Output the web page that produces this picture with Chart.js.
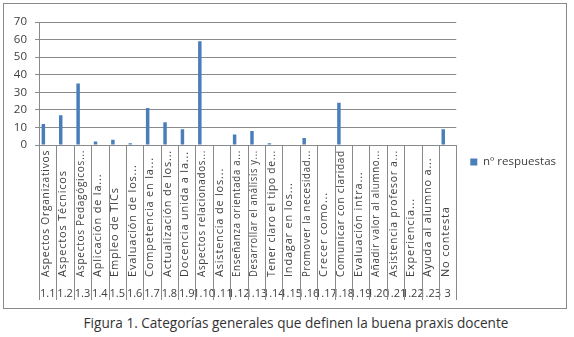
<!DOCTYPE html>
<html lang="es">
<head>
  <meta charset="UTF-8">
  <title>Figura 1</title>
  <script src="https://cdn.jsdelivr.net/npm/chart.js"></script>
  <style>
    * { margin: 0; padding: 0; box-sizing: border-box; }
    body { width: 574px; height: 337px; background: #fff; position: relative; overflow: hidden; }
    #box {
      position: absolute; left: 3px; top: 3px; width: 564px; height: 306px;
      border: 1px solid #8a8a8a;
    }
    #box canvas { display: block; }
    #caption {
      position: absolute; left: 0; width: 592px; top: 313px;
      text-align: center; font-family: 'Open Sans', sans-serif; font-size: 13.6px; color: #333;
    }
  </style>
</head>
<body>
  <div id="box"><canvas id="chart" width="562" height="304"></canvas></div>
  <div id="caption">Figura 1. Categorías generales que definen la buena praxis docente</div>

  <script>
    const categories = [
      "Aspectos Organizativos", "Aspectos Técnicos", "Aspectos Pedagógicos...", "Aplicación de la...",
      "Empleo de TICs", "Evaluación de los...", "Competencia en la...", "Actualización de los...",
      "Docencia unida a la...", "Aspectos relacionados...", "Asistencia de los...", "Enseñanza orientada a...",
      "Desarrollar el análisis y...", "Tener claro el tipo de...", "Indagar en los...", "Promover la necesidad...",
      "Crecer como...", "Comunicar con claridad", "Evaluación intra...", "Añadir valor al alumno...",
      "Asistencia profesor a...", "Experiencia...", "Ayuda al alumno a...", "No contesta"
    ];
    const codes = [
      "1.1", "1.2", "1.3", "1.4", "1.5", "1.6", "1.7", "1.8", "1.9", "1.10", "1.11", "1.12",
      "1.13", "1.14", "1.15", "1.16", "1.17", "1.18", "1.19", "1.20", "1.21", "1.22", "1.23", "3"
    ];
    const respuestas = [12, 17, 35, 2, 3, 1, 21, 13, 9, 59, 0, 6, 8, 1, 0, 4, 0, 24, 0, 0, 0, 0, 0, 9];
    const yTicks = [0, 10, 20, 30, 40, 50, 60, 70];

    const lineColor = '#8a8a8a';
    const textColor = '#404040';

    // table-like label area: separators + category names written bottom-up
    const labelArea = {
      id: 'labelArea',
      afterDraw(chart) {
        const x = chart.scales.x;
        const x2 = chart.scales.x2;
        const ctx = chart.ctx;
        const w = x.width / categories.length;
        ctx.save();
        ctx.strokeStyle = lineColor;
        ctx.lineWidth = 1;
        ctx.beginPath();
        for (let i = 0; i <= categories.length; i++) {
          const px = Math.round(x.left + i * w) + 0.5;
          ctx.moveTo(px, x.top);
          ctx.lineTo(px, x2.bottom - 2);
        }
        ctx.stroke();

        ctx.fillStyle = textColor;
        ctx.font = '11px "Open Sans"';
        if ('letterSpacing' in ctx) ctx.letterSpacing = '0.8px';
        ctx.textAlign = 'left';
        ctx.textBaseline = 'middle';
        const room = x.height - 8;
        categories.forEach((label, i) => {
          const px = x.getPixelForTick(i) - 2;
          ctx.save();
          ctx.translate(px, x.bottom - 3);
          ctx.rotate(-Math.PI / 2);
          ctx.fillText(label, 0, 0, room);
          ctx.restore();
        });
        ctx.restore();
      }
    };

    new Chart(document.getElementById('chart'), {
      type: 'bar',
      data: {
        labels: categories,
        datasets: [
          {
            label: 'nº respuestas',
            data: respuestas,
            backgroundColor: '#4a7ebb',
            borderWidth: 0,
            categoryPercentage: 1.0,
            barPercentage: 0.4
          },
          {
            label: '',
            data: respuestas.map(() => null),
            backgroundColor: '#c6d6ea',
            categoryPercentage: 1.0,
            barPercentage: 0.4
          }
        ]
      },
      options: {
        responsive: false,
        animation: false,
        events: [],
        layout: { padding: { top: 18, right: 0, bottom: 6, left: 0 } },
        plugins: {
          title: { display: false },
          tooltip: { enabled: false },
          legend: {
            position: 'right',
            labels: {
              filter: item => item.datasetIndex === 0,
              boxWidth: 7,
              boxHeight: 7,
              padding: 14,
              color: textColor,
              font: { family: 'Open Sans', size: 11.5 }
            }
          }
        },
        scales: {
          y: {
            min: 0,
            max: 70,
            afterBuildTicks: s => { s.ticks = yTicks.map(v => ({ value: v })); },
            afterFit: s => { s.width = 35; },
            grid: { color: lineColor, tickLength: 4 },
            border: { display: true, color: lineColor },
            ticks: { color: textColor, padding: 8, font: { family: 'Open Sans', size: 11.5 } }
          },
          x: {
            weight: 0,
            afterFit: s => { s.height = 135; },
            grid: { display: false, drawTicks: false },
            border: { display: true, color: lineColor },
            ticks: { display: false, autoSkip: false }
          },
          x2: {
            type: 'category',
            position: 'bottom',
            weight: 1,
            labels: codes,
            offset: true,
            afterFit: s => { s.height = 22; },
            grid: { display: false, drawTicks: false },
            border: { display: false },
            ticks: {
              autoSkip: false,
              maxRotation: 0,
              minRotation: 0,
              padding: 7,
              color: textColor,
              font: { family: 'Open Sans', size: 11 }
            }
          }
        }
      },
      plugins: [labelArea]
    });
  </script>
</body>
</html>
